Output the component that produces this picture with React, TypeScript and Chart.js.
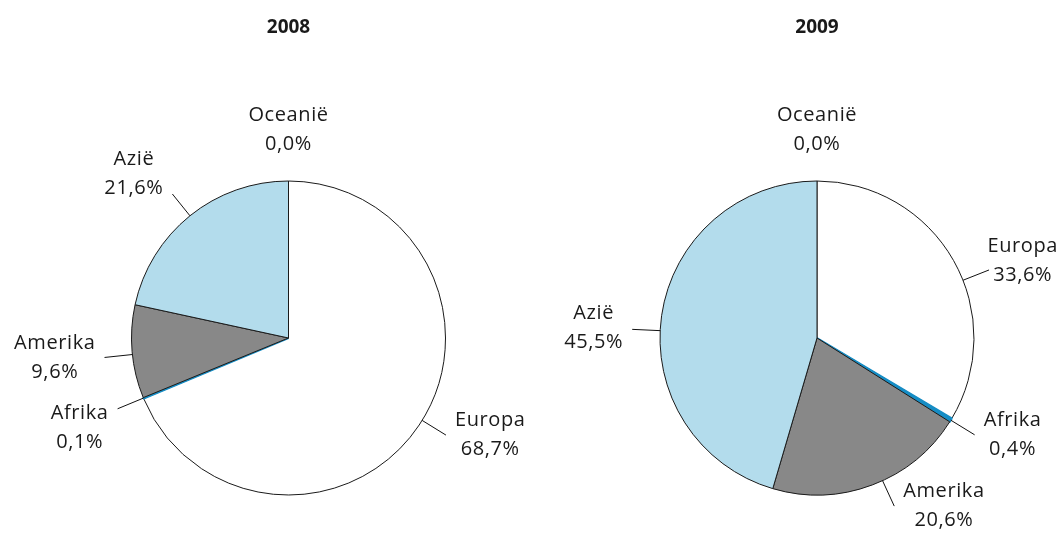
import React, { useEffect, useRef } from "react";
import { Chart, registerables } from "chart.js";

Chart.register(...registerables);

const categories = ["Oceanië", "Europa", "Afrika", "Amerika", "Azië"];
const values2008 = [0.0, 68.7, 0.1, 9.6, 21.6];
const values2009 = [0.0, 33.6, 0.4, 20.6, 45.5];
const titles = ["2008", "2009"];
const sliceColors = ["#ffffff", "#ffffff", "#168dc5", "#888888", "#b3dcec"];
const sliceBorderColors = ["#1a1a1a", "#1a1a1a", "#168dc5", "#1a1a1a", "#1a1a1a"];
const sliceBorderWidths = [1, 1, 2, 1, 1];

// leader-line angle adjustments (degrees) to follow the reference's label placement
const leaderShift2008 = [0, -2, 0, -1, 0];
const leaderShift2009 = [0, 8, 0, -4, -5.5];

const FONT = "'Open Sans', 'DejaVu Sans', sans-serif";

const outsideLabels = {
  id: "outsideLabels",
  afterDatasetsDraw(chart: any, _args: any, opts: any) {
    const ctx = chart.ctx;
    const meta = chart.getDatasetMeta(0);
    const data = chart.data.datasets[0].data as number[];
    const labels = chart.data.labels as string[];
    const shifts: number[] = opts.shifts || [];
    const lineH = 29;
    const lead = 28;
    const gap = 9;
    ctx.save();
    ctx.font = `20px ${FONT}`;
    (ctx as any).letterSpacing = "0.6px";
    ctx.fillStyle = "#1a1a1a";
    ctx.strokeStyle = "#111111";
    ctx.lineWidth = 1;
    ctx.textBaseline = "middle";
    const blocks: any[] = [];
    meta.data.forEach((arc: any, i: number) => {
      const { x, y, startAngle, endAngle, outerRadius } = arc.getProps(
        ["x", "y", "startAngle", "endAngle", "outerRadius"],
        true
      );
      const mid = (startAngle + endAngle) / 2 + ((shifts[i] || 0) * Math.PI) / 180;
      const ux = Math.cos(mid);
      const uy = Math.sin(mid);
      const line1 = labels[i];
      const line2 = data[i].toFixed(1).replace(".", ",") + "%";
      const w = Math.max(ctx.measureText(line1).width, ctx.measureText(line2).width);
      const h = lineH * 2;
      if (data[i] === 0) {
        blocks.push({
          line1, line2, w, h, side: 0,
          cx: x + ux * outerRadius,
          cy: y + uy * outerRadius - 22 - h / 2,
        });
        return;
      }
      const px = x + ux * outerRadius;
      const py = y + uy * outerRadius;
      const ex = x + ux * (outerRadius + lead);
      const ey = y + uy * (outerRadius + lead);
      ctx.beginPath();
      ctx.moveTo(px, py);
      ctx.lineTo(ex, ey);
      ctx.stroke();
      const side = ux >= 0 ? 1 : -1;
      const up = Math.max(0, -uy);
      let cx = side > 0 ? ex + gap + w / 2 : ex - gap - w / 2;
      // keep the label inside the canvas
      cx = Math.min(cx, chart.width - 4 - w / 2);
      cx = Math.max(cx, 4 + w / 2);
      blocks.push({ line1, line2, w, h, side, cx, cy: ey - up * h * 0.45 });
    });
    // simple overlap avoidance per side: push lower blocks down
    [1, -1].forEach((s) => {
      const sideBlocks = blocks.filter((b) => b.side === s).sort((a, b) => a.cy - b.cy);
      for (let k = 1; k < sideBlocks.length; k++) {
        const prev = sideBlocks[k - 1];
        const cur = sideBlocks[k];
        const minCy = prev.cy + prev.h / 2 + 12 + cur.h / 2;
        if (cur.cy < minCy) cur.cy = minCy;
      }
    });
    ctx.textAlign = "center";
    blocks.forEach((b) => {
      ctx.fillText(b.line1, b.cx, b.cy - lineH / 2);
      ctx.fillText(b.line2, b.cx, b.cy + lineH / 2);
    });
    ctx.restore();
  },
};

function PieChart({
  title,
  values,
  padLeft,
  shifts,
}: {
  title: string;
  values: number[];
  padLeft: number;
  shifts: number[];
}) {
  const ref = useRef<HTMLCanvasElement>(null);
  useEffect(() => {
    if (!ref.current) return;
    const chart = new Chart(ref.current, {
      type: "pie",
      data: {
        labels: categories,
        datasets: [
          {
            data: values,
            backgroundColor: sliceColors,
            borderColor: sliceBorderColors,
            borderWidth: sliceBorderWidths,
            hoverOffset: 0,
          },
        ],
      },
      options: {
        responsive: false,
        animation: false,
        devicePixelRatio: 1,
        layout: { padding: { left: padLeft, right: 0, top: 0, bottom: 37 } },
        plugins: {
          legend: { display: false },
          tooltip: { enabled: false },
          title: {
            display: true,
            text: title,
            color: "#1a1a1a",
            font: { family: FONT, size: 19, weight: "bold" },
            padding: { top: 16, bottom: 141.2 },
          },
          outsideLabels: { shifts },
        } as any,
      },
      plugins: [outsideLabels],
    });
    return () => chart.destroy();
  }, [title, values, padLeft, shifts]);
  return <canvas ref={ref} width={531} height={533} style={{ display: "block" }} />;
}

export default function App() {
  return (
    <div
      style={{
        position: "absolute",
        left: 0,
        top: 0,
        width: 1062,
        height: 533,
        background: "#ffffff",
        display: "flex",
      }}
    >
      <PieChart title={titles[0]} values={values2008} padLeft={46} shifts={leaderShift2008} />
      <PieChart title={titles[1]} values={values2009} padLeft={41} shifts={leaderShift2009} />
    </div>
  );
}
